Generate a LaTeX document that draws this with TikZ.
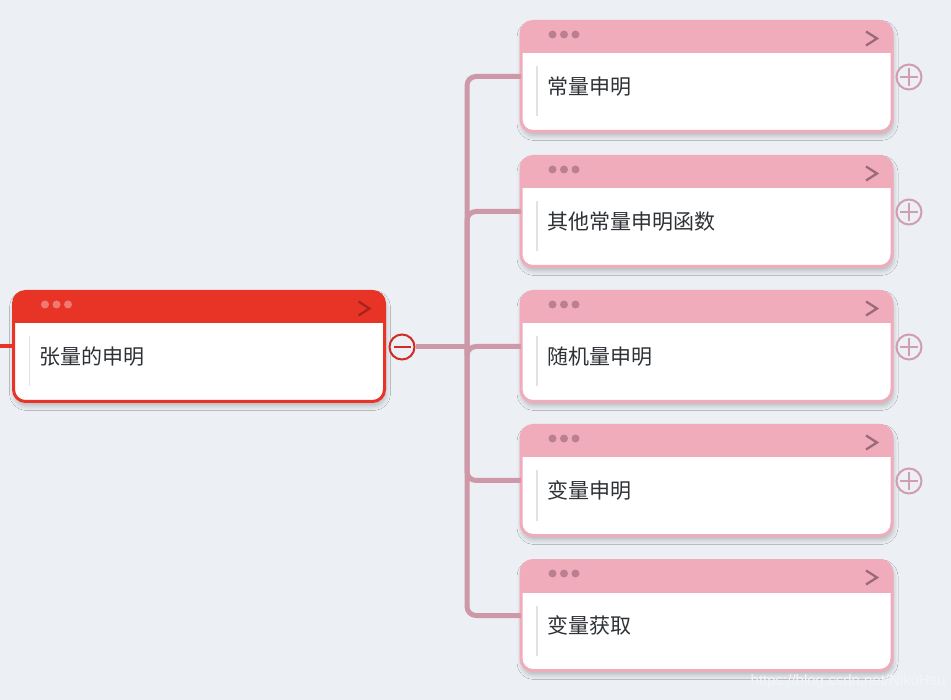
\documentclass[tikz,border=0pt]{standalone}
\usepackage{fontspec}
\setmainfont{Liberation Sans}
\newfontfamily\cjk{Noto Sans CJK SC}
\usetikzlibrary{calc,shadows.blur}
\definecolor{bg}{HTML}{ECEFF4}
\definecolor{rootred}{HTML}{E83427}
\definecolor{rootdot}{HTML}{F07A72}
\definecolor{rootchev}{HTML}{A8231B}
\definecolor{pinkhdr}{HTML}{F1ACBC}
\definecolor{pinkdot}{HTML}{BA8090}
\definecolor{pinkchev}{HTML}{9A6A78}
\definecolor{connc}{HTML}{CD98A7}
\definecolor{plusc}{HTML}{D09EAE}
\definecolor{txt}{HTML}{2E3236}
\definecolor{barc}{HTML}{E2E2E2}
\definecolor{minusred}{HTML}{D22B24}
\definecolor{wmc}{HTML}{F4F5F8}
\tikzset{
  mbox/.style={rounded corners=12pt, minimum width=371pt, minimum height=110pt,
    fill=white, inner sep=0pt, outer sep=0pt,
    blur shadow={shadow xshift=1pt, shadow yshift=-4pt, shadow blur radius=5pt, shadow blur steps=8, shadow opacity=25}},
  conn line/.style={draw=connc, line width=5pt, rounded corners=9pt},
  lbl/.style={font=\cjk\fontsize{21}{25}\selectfont, text=txt, anchor=west, inner sep=0pt},
  togglec/.style={circle, line width=2pt, minimum size=25pt, inner sep=0pt, fill=bg},
}
% #1 name, #2 center, #3 header, #4 border, #5 dots, #6 chevron, #7 text
\newcommand\mmbox[7]{%
  \node[mbox] (#1) at (#2) {};
  \begin{scope}
    \clip[rounded corners=12pt] (#1.north west) rectangle (#1.south east);
    \fill[#3] (#1.north west) rectangle ($(#1.north east)+(0,32)$);
  \end{scope}
  \draw[#4, line width=3pt, rounded corners=12pt] (#1.north west) rectangle (#1.south east);
  \foreach \dx in {31.5,43,54.5}{\fill[#5] ($(#1.north west)+(\dx,13)$) circle (4pt);}
  \draw[#6, line width=2.3pt] ($(#1.north east)+(-26,10)$) -- ($(#1.north east)+(-15,17)$) -- ($(#1.north east)+(-26,24)$);
  \draw[barc, line width=1.5pt] ($(#1.west)+(16,-10)$) -- ($(#1.west)+(16,40)$);
  \node[lbl] (#1t) at ($(#1.west)+(26,10)$) {#7};
}
\begin{document}
\begin{tikzpicture}[x=1pt,y=-1pt]
  \fill[bg] (0,0) rectangle (951,700);
  \useasboundingbox (0,0) rectangle (951,700);

  \coordinate (l0) at (0,346.5);
  \coordinate (j) at (467,347);
  \coordinate (m) at (402,347);
  \coordinate (rootc) at (199,346.5);
  \coordinate (c1c) at (706.5,76.5);
  \coordinate (c2c) at (706.5,211.5);
  \coordinate (c3c) at (706.5,346.5);
  \coordinate (c4c) at (706.5,480.5);
  \coordinate (c5c) at (706.5,615.5);

  \mmbox{root}{rootc}{rootred}{rootred}{rootdot}{rootchev}{张量的申明}
  \mmbox{c1}{c1c}{pinkhdr}{pinkhdr}{pinkdot}{pinkchev}{常量申明}
  \mmbox{c2}{c2c}{pinkhdr}{pinkhdr}{pinkdot}{pinkchev}{其他常量申明函数}
  \mmbox{c3}{c3c}{pinkhdr}{pinkhdr}{pinkdot}{pinkchev}{随机量申明}
  \mmbox{c4}{c4c}{pinkhdr}{pinkhdr}{pinkdot}{pinkchev}{变量申明}
  \mmbox{c5}{c5c}{pinkhdr}{pinkhdr}{pinkdot}{pinkchev}{变量获取}

  \node[togglec, draw=minusred] (mt) at (m) {};
  \node[togglec, draw=plusc] (p1) at (909,77) {};
  \node[togglec, draw=plusc] (p2) at (909,212) {};
  \node[togglec, draw=plusc] (p3) at (909,347) {};
  \node[togglec, draw=plusc] (p4) at (909,481) {};

  \draw[rootred, line width=4pt] (l0) -- (root.west);
  \draw[conn line] (mt.east) -- (j);
  \foreach \c in {c1,c2,c3,c4,c5}{\draw[conn line] (j) |- (\c.west);}

  \draw[minusred, line width=2pt] ($(mt.center)+(-8.5,0)$) -- ($(mt.center)+(8.5,0)$);
  \foreach \p in {p1,p2,p3,p4}{
    \draw[plusc, line width=2pt] ($(\p.center)+(-9,0)$) -- ($(\p.center)+(9,0)$);
    \draw[plusc, line width=2pt] ($(\p.center)+(0,-9)$) -- ($(\p.center)+(0,9)$);
  }

  \node[font=\fontsize{15}{18}\selectfont, text=wmc, anchor=east, inner sep=0pt] (wm) at (946,682) {https://blog.csdn.net/NikoHsu};
\end{tikzpicture}
\end{document}
